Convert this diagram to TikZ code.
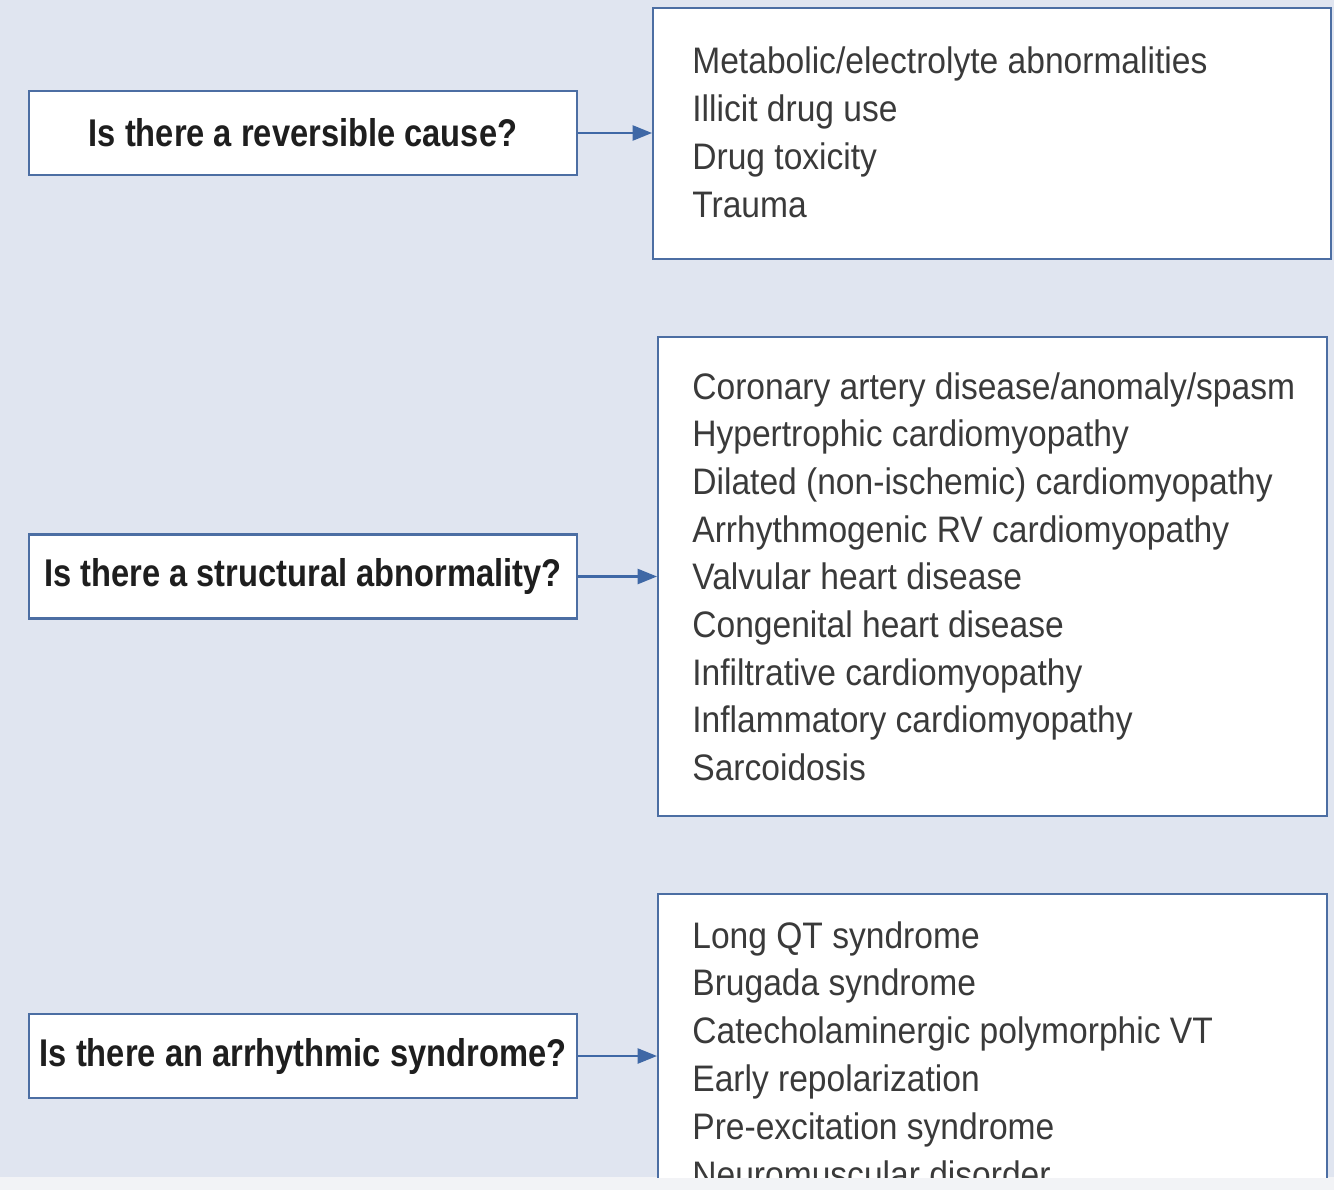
\documentclass[tikz,border=0pt]{standalone}
\usepackage{fontspec}
\setmainfont{Liberation Sans}
\newfontfamily\listfont{Liberation Sans}[FakeStretch=0.91]
\newfontfamily\qfont{Liberation Sans}[FakeStretch=0.845]
\usetikzlibrary{arrows.meta}
\definecolor{bgblue}{HTML}{E0E5F0}
\definecolor{stripgray}{HTML}{F2F3F6}
\definecolor{edgeblue}{HTML}{4C6EA3}
\definecolor{arrowblue}{HTML}{3F68A6}
\definecolor{listtext}{HTML}{3A3A3A}
\definecolor{qtext}{HTML}{1E1E1E}
\tikzset{
  qbox/.style={draw=edgeblue, line width=1.2pt, fill=white, minimum width=10.96cm, minimum height=1.68cm, inner sep=0pt,
    font=\qfont\bfseries\fontsize{22}{26}\selectfont, text=qtext},
  rbox/.style={draw=edgeblue, line width=1.2pt, fill=white, inner sep=0pt},
  item/.style={anchor=base west, inner sep=0pt, font=\listfont\fontsize{21}{25}\selectfont, text=listtext},
  link/.style={draw=arrowblue, line width=1.4pt, -{Triangle[length=11pt,width=8.5pt]}}
}
\begin{document}
\begin{tikzpicture}[x=0.02cm,y=-0.02cm]
\useasboundingbox (0,0) rectangle (1334,1190);
\fill[bgblue] (0,0) rectangle (1334,1177);
\fill[stripgray] (0,1177) rectangle (1334,1190);

% question boxes
\node[qbox] (q1) at (303,133) {Is there a reversible cause?};
\node[qbox] (q2) at (303,576.5) {Is there a structural abnormality?};
\node[qbox] (q3) at (303,1056) {Is there an arrhythmic syndrome?};

% result box 1
\node[rbox, minimum width=13.56cm, minimum height=5.02cm] (r1) at (992,133.5) {};
\node[item] (r1a) at (692,73) {Metabolic/electrolyte abnormalities};
\node[item] (r1b) at (692,121) {Illicit drug use};
\node[item] (r1c) at (692,169) {Drug toxicity};
\node[item] (r1d) at (692,217) {Trauma};

% result box 2
\node[rbox, minimum width=13.38cm, minimum height=9.58cm] (r2) at (992.5,576.5) {};
\node[item] (r2a) at (692,399) {Coronary artery disease/anomaly/spasm};
\node[item] (r2b) at (692,446.7) {Hypertrophic cardiomyopathy};
\node[item] (r2c) at (692,494.4) {Dilated (non-ischemic) cardiomyopathy};
\node[item] (r2d) at (692,542.1) {Arrhythmogenic RV cardiomyopathy};
\node[item] (r2e) at (692,589.8) {Valvular heart disease};
\node[item] (r2f) at (692,637.5) {Congenital heart disease};
\node[item] (r2g) at (692,685.2) {Infiltrative cardiomyopathy};
\node[item] (r2h) at (692,732.9) {Inflammatory cardiomyopathy};
\node[item] (r2i) at (692,780.6) {Sarcoidosis};

% result box 3 (cut off at the bottom)
\begin{scope}
\clip (0,0) rectangle (1334,1177);
\node[rbox, minimum width=13.38cm, minimum height=7.12cm] (r3) at (992.5,1072) {};
\node[item] (r3a) at (692,948) {Long QT syndrome};
\node[item] (r3b) at (692,995.8) {Brugada syndrome};
\node[item] (r3c) at (692,1043.6) {Catecholaminergic polymorphic VT};
\node[item] (r3d) at (692,1091.4) {Early repolarization};
\node[item] (r3e) at (692,1139.2) {Pre-excitation syndrome};
\node[item] (r3f) at (692,1187) {Neuromuscular disorder};
\end{scope}

% connectors
\draw[link] (q1.east) -- (q1.east -| r1.west);
\draw[link] (q2.east) -- (q2.east -| r2.west);
\draw[link] (q3.east) -- (q3.east -| r3.west);
\end{tikzpicture}
\end{document}
